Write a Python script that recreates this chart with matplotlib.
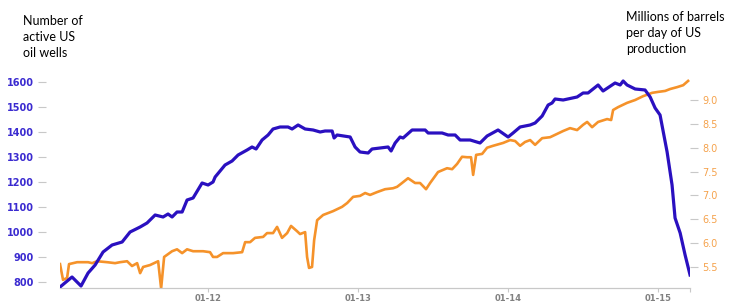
import matplotlib
matplotlib.use('Agg')
import matplotlib.pyplot as plt

# active US oil rigs (left axis), time in decimal years
rig_t = [2011.013, 2011.093, 2011.153, 2011.200, 2011.247, 2011.300, 2011.360, 2011.427,
         2011.480, 2011.547, 2011.593, 2011.647, 2011.700, 2011.733, 2011.760, 2011.793,
         2011.827, 2011.860, 2011.900, 2011.960, 2012.000, 2012.033, 2012.047, 2012.113,
         2012.160, 2012.200, 2012.260, 2012.293, 2012.320, 2012.360, 2012.400, 2012.433,
         2012.480, 2012.533, 2012.560, 2012.600, 2012.647, 2012.700, 2012.747, 2012.780,
         2012.827, 2012.840, 2012.860, 2012.947, 2012.980, 2013.013, 2013.067, 2013.093,
         2013.147, 2013.200, 2013.220, 2013.247, 2013.280, 2013.300, 2013.360, 2013.447,
         2013.467, 2013.560, 2013.600, 2013.647, 2013.680, 2013.747, 2013.813, 2013.860,
         2013.933, 2014.000, 2014.033, 2014.080, 2014.147, 2014.180, 2014.227, 2014.267,
         2014.293, 2014.313, 2014.367, 2014.460, 2014.500, 2014.533, 2014.600, 2014.633,
         2014.713, 2014.747, 2014.767, 2014.793, 2014.847, 2014.913, 2014.947, 2014.980,
         2015.013, 2015.060, 2015.093, 2015.113, 2015.147, 2015.180, 2015.213]
rigs = [780, 820, 784, 836, 868, 920, 948, 960,
        1000, 1020, 1036, 1068, 1060, 1072, 1060, 1080,
        1080, 1128, 1136, 1196, 1188, 1200, 1220, 1268,
        1284, 1308, 1328, 1340, 1332, 1368, 1388, 1412,
        1420, 1420, 1412, 1428, 1412, 1408, 1400, 1404,
        1404, 1376, 1388, 1380, 1340, 1320, 1316, 1332,
        1336, 1340, 1324, 1356, 1380, 1376, 1408, 1408,
        1396, 1396, 1388, 1388, 1368, 1368, 1356, 1384,
        1408, 1380, 1396, 1420, 1428, 1436, 1464, 1508,
        1516, 1532, 1528, 1540, 1556, 1556, 1588, 1564,
        1596, 1588, 1604, 1588, 1572, 1568, 1540, 1496,
        1468, 1320, 1188, 1056, 996, 908, 828]

# US production, million barrels per day (right axis)
prod_t = [2011.013, 2011.033, 2011.060, 2011.073, 2011.127, 2011.200, 2011.227, 2011.260,
          2011.327, 2011.380, 2011.413, 2011.460, 2011.493, 2011.527, 2011.547, 2011.567,
          2011.613, 2011.667, 2011.687, 2011.707, 2011.760, 2011.793, 2011.827, 2011.860,
          2011.900, 2011.967, 2012.013, 2012.033, 2012.060, 2012.100, 2012.167, 2012.227,
          2012.247, 2012.280, 2012.313, 2012.367, 2012.393, 2012.433, 2012.460, 2012.493,
          2012.527, 2012.553, 2012.593, 2012.613, 2012.647, 2012.660, 2012.673, 2012.693,
          2012.707, 2012.727, 2012.767, 2012.833, 2012.893, 2012.927, 2012.967, 2013.013,
          2013.047, 2013.080, 2013.127, 2013.180, 2013.233, 2013.260, 2013.293, 2013.333,
          2013.380, 2013.413, 2013.453, 2013.480, 2013.533, 2013.593, 2013.627, 2013.660,
          2013.693, 2013.727, 2013.753, 2013.767, 2013.787, 2013.827, 2013.860, 2013.900,
          2013.967, 2014.013, 2014.047, 2014.080, 2014.113, 2014.147, 2014.180, 2014.227,
          2014.280, 2014.327, 2014.367, 2014.413, 2014.460, 2014.500, 2014.527, 2014.560,
          2014.600, 2014.660, 2014.687, 2014.700, 2014.733, 2014.793, 2014.847, 2014.900,
          2014.960, 2015.000, 2015.047, 2015.080, 2015.127, 2015.167, 2015.200]
prod = [5.56, 5.23, 5.27, 5.56, 5.60, 5.60, 5.58, 5.62,
        5.60, 5.58, 5.60, 5.62, 5.52, 5.58, 5.37, 5.50,
        5.54, 5.62, 5.05, 5.71, 5.83, 5.87, 5.79, 5.87,
        5.83, 5.83, 5.81, 5.71, 5.71, 5.79, 5.79, 5.81,
        6.02, 6.02, 6.11, 6.13, 6.21, 6.21, 6.34, 6.11,
        6.21, 6.36, 6.25, 6.19, 6.23, 5.71, 5.48, 5.50,
        6.06, 6.48, 6.59, 6.67, 6.76, 6.84, 6.97, 6.99,
        7.05, 7.01, 7.07, 7.13, 7.15, 7.18, 7.26, 7.36,
        7.26, 7.26, 7.13, 7.26, 7.49, 7.57, 7.55, 7.66,
        7.81, 7.80, 7.80, 7.43, 7.85, 7.87, 8.00, 8.04,
        8.10, 8.16, 8.14, 8.04, 8.12, 8.16, 8.06, 8.20,
        8.22, 8.29, 8.35, 8.41, 8.37, 8.48, 8.54, 8.43,
        8.54, 8.60, 8.58, 8.79, 8.85, 8.94, 9.00, 9.08,
        9.15, 9.17, 9.19, 9.23, 9.27, 9.31, 9.40]

year_ticks = [2012, 2013, 2014, 2015]
year_labels = ['01-12', '01-13', '01-14', '01-15']
left_ticks = [800, 900, 1000, 1100, 1200, 1300, 1400, 1500, 1600]
right_ticks = [5.5, 6.0, 6.5, 7.0, 7.5, 8.0, 8.5, 9.0]

blue = '#2a10c0'
orange = '#f5922a'

fig = plt.figure(figsize=(7.32, 3.03), dpi=100)
ax = fig.add_axes([0.082, 0.0495, 0.8607, 0.7195])
ax2 = ax.twinx()

ax.plot(rig_t, rigs, color=blue, lw=2.3, zorder=3, solid_joinstyle='round')
ax2.plot(prod_t, prod, color=orange, lw=1.9, zorder=2, solid_joinstyle='round')
ax.set_zorder(ax2.get_zorder() + 1)
ax.patch.set_visible(False)

ax.set_xlim(2011.013, 2015.213)
ax.set_ylim(776, 1648)
ax2.set_ylim(5.059, 9.629)

for a in (ax, ax2):
    for s in ('top', 'left', 'right'):
        a.spines[s].set_visible(False)
    a.spines['bottom'].set_color('#c8c8c8')

ax.spines['left'].set_position(('outward', 10))

ax.set_yticks(left_ticks)
ax.set_yticklabels([str(v) for v in left_ticks])
ax.tick_params(axis='y', length=6, width=0.8, color='#c8c8c8', pad=3,
               labelsize=7, labelcolor='#3b2bd0')
for lab in ax.get_yticklabels():
    lab.set_fontweight('bold')
    lab.set_family('DejaVu Sans')

ax2.set_yticks(right_ticks)
ax2.set_yticklabels(['%.1f' % v for v in right_ticks])
ax2.tick_params(axis='y', length=6, width=0.8, color='#c8c8c8', pad=3,
                labelsize=7, labelcolor='#f5a24c')
for lab in ax2.get_yticklabels():
    lab.set_family('DejaVu Sans')

xt = year_ticks + [ax.get_xlim()[1]]
ax.set_xticks(xt)
ax.set_xticklabels(year_labels + [''])
ax.tick_params(axis='x', length=3, width=0.8, color='#c8c8c8', pad=1,
               labelsize=6, labelcolor='#808080')
for lab in ax.get_xticklabels():
    lab.set_family('DejaVu Sans')
    lab.set_fontweight('bold')

fig.text(23 / 732, 1 - 15 / 303, 'Number of\nactive US\noil wells', ha='left', va='top',
         fontsize=9, family='Lato', linespacing=1.4, color='black')
fig.text(626 / 732, 1 - 11 / 303, 'Millions of barrels\nper day of US\nproduction', ha='left',
         va='top', fontsize=9, family='Lato', linespacing=1.4, color='black')

fig.savefig('out.png', dpi=100)
